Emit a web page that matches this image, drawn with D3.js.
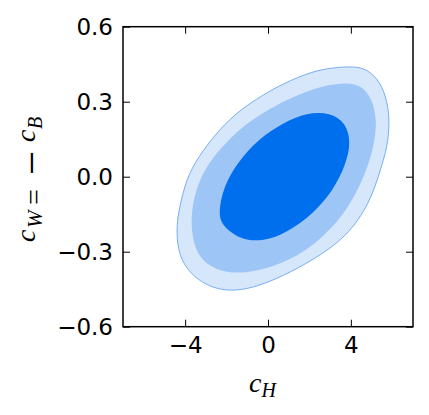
<!DOCTYPE html>
<html><head><meta charset="utf-8">
<script src="https://cdn.jsdelivr.net/npm/d3@7"></script>
<style>body{margin:0;background:#fff}</style>
</head><body>
<svg id="c" width="429" height="415"></svg>
<script>
// Data (contour boundaries in data coordinates: [c_H, c_W])
const xTicks = [-4, 0, 4];
const yTicks = [-0.6, -0.3, 0.0, 0.3, 0.6];
const xTickLabels = ["\u22124", "0", "4"];
const yTickLabels = ["\u22120.6", "\u22120.3", "0.0", "0.3", "0.6"];
const outerContour = [
  [-4.42,-0.24],[-4.37,-0.16],[-4.1,-0.06],[-3.74,0.03],[-2.93,0.13],[-1.85,0.235],
  [-0.53,0.314],[0.75,0.374],[2.19,0.423],[3.15,0.436],[4.12,0.442],
  [4.8,0.43],[5.42,0.38],[5.77,0.30],[5.87,0.217],[5.77,0.12],[5.42,0.025],
  [4.92,-0.105],[3.81,-0.241],[2.18,-0.333],[0.74,-0.397],[-0.69,-0.446],
  [-2.13,-0.462],[-3.41,-0.418],[-4.24,-0.336]
];
const middleContour = [
  [-3.76,-0.2],[-3.6,-0.08],[-3.10,0.027],[-2.29,0.115],[-1.17,0.207],[0.11,0.274],
  [1.17,0.318],[2.51,0.362],[3.72,0.377],[4.46,0.368],[5.02,0.316],[5.26,0.223],
  [5.14,0.134],[4.79,0.027],[3.80,-0.146],[2.19,-0.28],[0.59,-0.353],[-1.17,-0.39],
  [-2.45,-0.378],[-3.43,-0.323]
];
const innerContour = [
  [-2.40,-0.146],[-2.15,-0.04],[-1.49,0.054],[-0.53,0.147],[0.75,0.217],[1.875,0.256],
  [3.0,0.257],[3.74,0.217],[4.01,0.139],[3.75,0.047],[3.15,-0.055],[2.19,-0.148],
  [0.91,-0.224],[-0.21,-0.259],[-1.33,-0.253],[-2.22,-0.196]
];
const xDomain = [-7, 7];
const yDomain = [-0.6, 0.6];

const L = 123, R = 413, T = 26.7, B = 326.7;
const x = d3.scaleLinear().domain(xDomain).range([L, R]);
const y = d3.scaleLinear().domain(yDomain).range([B, T]);
const svg = d3.select("#c");

const line = d3.line().x(d => x(d[0])).y(d => y(d[1])).curve(d3.curveBasisClosed);

svg.append("path").attr("d", line(outerContour)).attr("fill", "#d6e6fb").attr("stroke", "#6aa6f0").attr("stroke-width", 0.9);
svg.append("path").attr("d", line(middleContour)).attr("fill", "#9dc5f5");
svg.append("path").attr("d", line(innerContour)).attr("fill", "#006fed");

const tl = 7;
const fmtX = (d, i) => xTickLabels[i];
const fmtY = (d, i) => yTickLabels[i];
const styleAxis = g => {
  g.select(".domain").remove();
  g.selectAll(".tick line").attr("stroke", "#000").attr("stroke-width", 1);
  g.selectAll(".tick text").attr("font-family", "DejaVu Sans").attr("font-size", 23).attr("fill", "#000");
};
svg.append("g").attr("transform", `translate(0,${B})`)
  .call(d3.axisBottom(x).tickValues(xTicks).tickFormat(fmtX).tickSizeInner(-tl).tickPadding(10))
  .call(styleAxis);
svg.append("g").attr("transform", `translate(0,${T})`)
  .call(d3.axisTop(x).tickValues(xTicks).tickFormat("").tickSizeInner(-tl))
  .call(styleAxis);
svg.append("g").attr("transform", `translate(${L},0)`)
  .call(d3.axisLeft(y).tickValues(yTicks).tickFormat(fmtY).tickSizeInner(-tl).tickPadding(10))
  .call(styleAxis);
svg.append("g").attr("transform", `translate(${R},0)`)
  .call(d3.axisRight(y).tickValues(yTicks).tickFormat("").tickSizeInner(-tl))
  .call(styleAxis);

svg.append("rect").attr("x", L).attr("y", T).attr("width", R - L).attr("height", B - T)
  .attr("fill", "none").attr("stroke", "#000").attr("stroke-width", 1.5);

// x label
const xl = svg.append("text").attr("x", 249).attr("y", 392)
  .attr("font-family", "Liberation Serif").attr("font-size", 28).attr("fill", "#000");
xl.append("tspan").attr("font-style", "italic").text("c");
xl.append("tspan").attr("font-style", "italic").attr("font-size", 20).attr("dy", 5).text("H");

// y label (rotated)
const yg = svg.append("g").attr("transform", "translate(35,243) rotate(-90)")
  .attr("fill", "#000");
const yParts = [
  {t: "c", s: 1, dy: 0, fs: 28, it: true},
  {t: "W", s: 15, dy: 6.5, fs: 21, it: true},
  {t: "=", s: 38, dy: 7.5, fs: 28, it: false},
  {t: "\u2212", s: 68, dy: 10.5, fs: 43, it: false},
  {t: "c", s: 101, dy: 0, fs: 28, it: true},
  {t: "B", s: 114, dy: 6.5, fs: 20, it: true}
];
yg.selectAll("text").data(yParts).join("text")
  .attr("x", d => d.s).attr("y", d => d.dy)
  .attr("font-size", d => d.fs).attr("font-family", "Liberation Serif")
  .attr("font-style", d => d.it ? "italic" : "normal")
  .text(d => d.t);
</script>
</body></html>
